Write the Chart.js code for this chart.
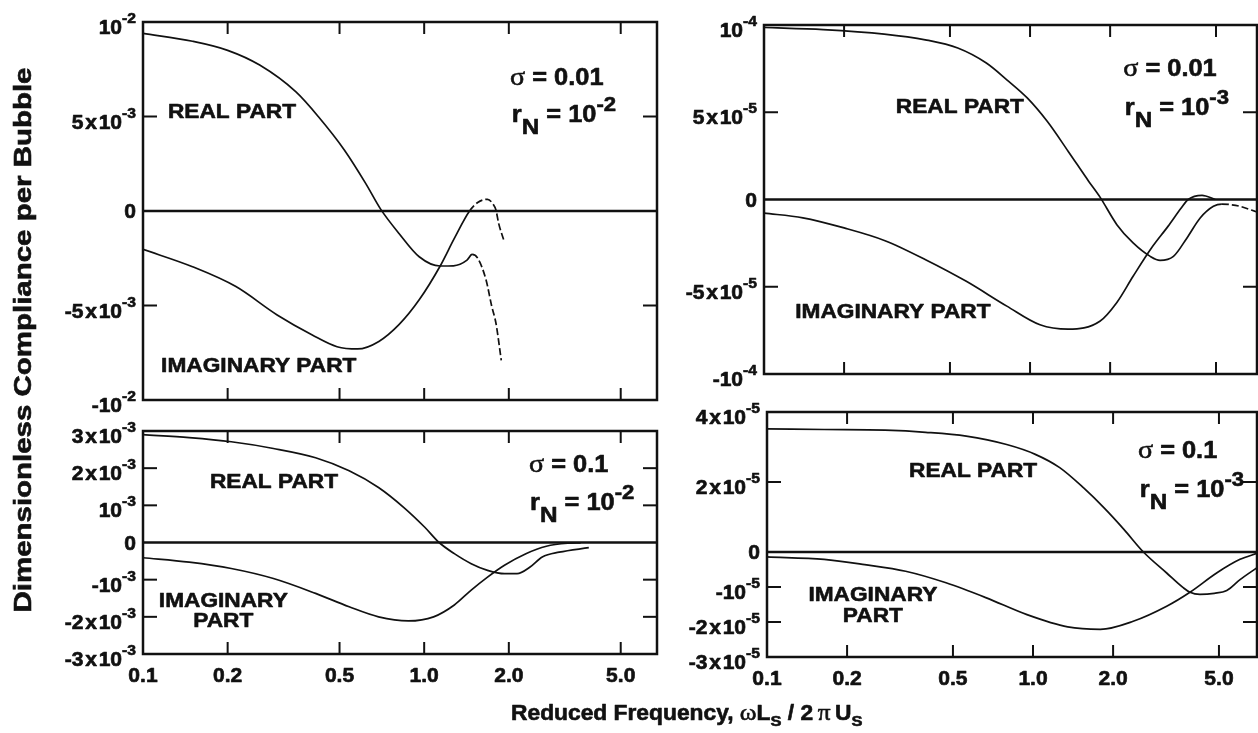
<!DOCTYPE html>
<html>
<head>
<meta charset="utf-8">
<title>Dimensionless compliance per bubble</title>
<script src="https://cdn.jsdelivr.net/npm/chart.js@4.4.1/dist/chart.umd.min.js"></script>
<style>
  html, body { margin: 0; padding: 0; background: #fff; }
  #page { position: relative; width: 1258px; height: 733px; overflow: hidden; background: #fff; }
  #page canvas { position: absolute; left: 0; top: 0; }
</style>
</head>
<body>
<div id="page">
  <canvas id="p1" width="1258" height="733"></canvas>
  <canvas id="p2" width="1258" height="733"></canvas>
  <canvas id="p3" width="1258" height="733"></canvas>
  <canvas id="p4" width="1258" height="733"></canvas>
</div>
<script>
// reduced frequency ticks, same on every panel
const freqTicks  = [0.1, 0.2, 0.5, 1, 2, 5];
const freqLabels = ['0.1', '0.2', '0.5', '1.0', '2.0', '5.0'];

// sigma = 0.01, rN = 1e-2  (values in units of 1e-3)
const freqReal1 = [0.1, 0.15, 0.2, 0.26, 0.35, 0.42, 0.52, 0.62, 0.7, 0.815, 0.96, 1.14, 1.27, 1.42, 1.48, 1.55, 1.66, 1.74, 1.8, 1.88];
const real1     = [9.4, 8.98, 8.5, 7.72, 6.3, 5.0, 3.23, 1.45, 0.1, -1.2, -2.42, -2.91, -2.9, -2.6, -2.3, -2.5, -3.65, -5.06, -5.94, -7.9];
const freqImag1 = [0.1, 0.15, 0.214, 0.3, 0.4, 0.49, 0.58, 0.69, 0.815, 0.96, 1.14, 1.28, 1.45, 1.55, 1.68, 1.76, 1.8, 1.84, 1.92];
const imag1     = [-2.03, -2.95, -4.0, -5.5, -6.56, -7.18, -7.3, -6.9, -6.0, -4.7, -2.91, -1.45, 0, 0.45, 0.62, 0.35, 0.05, -0.65, -1.55];
const yTicks1   = [10, 5, 0, -5, -10];
const yLabels1  = ['10^-2', '5x10^-3', '0', '-5x10^-3', '-10^-2'];

// sigma = 0.01, rN = 1e-3  (units of 1e-5)
const freqReal2 = [0.1, 0.167, 0.283, 0.404, 0.535, 0.685, 0.818, 0.976, 1.16, 1.39, 1.66, 1.83, 2.12, 2.44, 2.83, 3.08, 3.46, 3.89, 4.36, 4.89, 5.26, 5.7, 6.15, 7.13];
const real2     = [9.86, 9.74, 9.48, 9.15, 8.68, 7.82, 6.86, 5.82, 4.48, 2.77, 1.05, 0.15, -1.44, -2.49, -3.26, -3.49, -3.26, -2.2, -1.06, -0.39, -0.26, -0.3, -0.39, -0.72];
const freqImag2 = [0.1, 0.14, 0.2, 0.285, 0.405, 0.576, 0.818, 1.09, 1.39, 1.83, 2.12, 2.44, 2.86, 3.3, 3.7, 3.93, 4.43, 4.97];
const imag2     = [-0.78, -1.05, -1.63, -2.36, -3.45, -4.69, -6.11, -7.18, -7.43, -6.98, -5.9, -4.4, -2.78, -1.54, -0.49, 0, 0.24, 0];
const yTicks2   = [10, 5, 0, -5, -10];
const yLabels2  = ['10^-4', '5x10^-5', '0', '-5x10^-5', '-10^-4'];

// sigma = 0.1, rN = 1e-2  (units of 1e-3)
const freqReal3 = [0.1, 0.146, 0.206, 0.291, 0.411, 0.541, 0.688, 0.847, 1.005, 1.13, 1.28, 1.47, 1.68, 1.93, 2.14, 2.38, 2.63, 3.02, 3.85];
const real3     = [2.9, 2.82, 2.71, 2.53, 2.28, 1.93, 1.48, 0.94, 0.41, 0, -0.3, -0.57, -0.75, -0.84, -0.84, -0.66, -0.39, -0.26, -0.14];
const freqImag3 = [0.1, 0.146, 0.206, 0.291, 0.411, 0.541, 0.688, 0.878, 1.08, 1.28, 1.47, 1.68, 1.93, 2.3, 2.72, 3.24, 3.6];
const imag3     = [-0.41, -0.53, -0.7, -0.97, -1.37, -1.73, -2.0, -2.11, -2.0, -1.68, -1.28, -0.93, -0.61, -0.3, -0.1, -0.02, -0.01];
const yTicks3   = [3, 2, 1, 0, -1, -2, -3];
const yLabels3  = ['3x10^-3', '2x10^-3', '10^-3', '0', '-10^-3', '-2x10^-3', '-3x10^-3'];

// sigma = 0.1, rN = 1e-3  (units of 1e-5)
const freqReal4 = [0.1, 0.164, 0.278, 0.395, 0.561, 0.796, 1.02, 1.26, 1.55, 1.85, 2.2, 2.6, 3.18, 3.67, 3.89, 4.24, 4.8, 5.35, 6.0, 6.95];
const real4     = [3.52, 3.5, 3.48, 3.42, 3.31, 3.07, 2.79, 2.41, 1.83, 1.26, 0.64, 0, -0.6, -1.02, -1.15, -1.21, -1.18, -1.1, -0.79, -0.45];
const freqImag4 = [0.1, 0.164, 0.233, 0.332, 0.471, 0.668, 0.949, 1.35, 1.79, 2.38, 3.18, 3.89, 4.9, 6.0, 6.95];
const imag4     = [-0.14, -0.21, -0.36, -0.55, -0.88, -1.31, -1.79, -2.14, -2.21, -1.98, -1.55, -1.15, -0.6, -0.21, -0.04];
const yTicks4   = [4, 2, 0, -1, -2, -3];
const yLabels4  = ['4x10^-5', '2x10^-5', '0', '-10^-5', '-2x10^-5', '-3x10^-5'];

const W = 1258, H = 733;
const INK = '#111';
const SANS = '"Liberation Sans", Arial, Helvetica, sans-serif';
const GREEK = '"Liberation Serif", "DejaVu Serif", serif';
const STRETCH = 1.08;   // the lettering runs a bit wide
const TICK = 12;

function fontOf(r) {
  return (r.w || 'bold') + ' ' + r.size + 'px ' + (r.fam || SANS);
}

function runsWidth(ctx, runs) {
  let w = 0;
  runs.forEach(r => { ctx.font = fontOf(r); w += ctx.measureText(r.t).width; });
  return w;
}

// draw a line of mixed text (sub/superscripts, greek) starting at x, baseline y
function drawRuns(ctx, runs, x, y, align, stretch) {
  ctx.save();
  ctx.translate(x, y);
  ctx.scale(stretch || STRETCH, 1);
  const w = runsWidth(ctx, runs);
  let cx = align === 'right' ? -w : align === 'center' ? -w / 2 : 0;
  ctx.fillStyle = INK;
  ctx.strokeStyle = INK;
  ctx.lineWidth = 0.6;       // heavier strokes, like the printed lettering
  ctx.lineJoin = 'round';
  ctx.textBaseline = 'alphabetic';
  ctx.textAlign = 'left';
  runs.forEach(r => {
    ctx.font = fontOf(r);
    ctx.fillText(r.t, cx, r.dy || 0);
    ctx.strokeText(r.t, cx, r.dy || 0);
    cx += ctx.measureText(r.t).width;
  });
  ctx.restore();
  return w * (stretch || STRETCH);
}

// "5x10^-3" -> base + raised exponent
function tickRuns(label) {
  const parts = label.split('^');
  const base = parts[0].replace('x', '\u200ax\u200a');
  const runs = [{ t: base, size: 19.5 }];
  if (parts[1]) runs.push({ t: parts[1], size: 14.5, dy: -11 });
  return runs;
}

const word = (t) => [{ t: t, size: 21 }];
const sigmaRuns = (v) => [{ t: '\u03c3', size: 26, w: 'normal', fam: GREEK }, { t: ' = ' + v, size: 23.5 }];
const rnRuns = (e) => [
  { t: 'r', size: 23.5 }, { t: 'N', size: 22.5, dy: 12 },
  { t: ' = 10', size: 23.5 }, { t: e, size: 20.5, dy: -11 }
];

const framePlugin = {
  id: 'frame',
  afterDraw(chart, args, o) {
    const { ctx, chartArea: a } = chart;
    const xs = chart.scales.x, ys = chart.scales.y;
    const seg = (x1, y1, x2, y2) => { ctx.beginPath(); ctx.moveTo(x1, y1); ctx.lineTo(x2, y2); ctx.stroke(); };
    ctx.save();
    ctx.strokeStyle = INK;
    ctx.lineCap = 'butt';

    // frame and zero line
    ctx.lineWidth = 2.5;
    ctx.strokeRect(a.left, a.top, a.right - a.left, a.bottom - a.top);
    const y0 = ys.getPixelForValue(0);
    seg(a.left, y0, a.right, y0);

    // inward ticks
    ctx.lineWidth = 2;
    freqTicks.forEach(v => {
      if (v <= xs.min || v >= xs.max) return;
      const px = xs.getPixelForValue(v);
      seg(px, a.top, px, a.top + TICK);
      seg(px, a.bottom, px, a.bottom - TICK);
    });
    o.yTicks.forEach(v => {
      if (v >= ys.max || v <= ys.min || v === 0) return;
      const py = ys.getPixelForValue(v);
      seg(a.left, py, a.left + TICK + 2, py);
      seg(a.right, py, a.right - TICK - 2, py);
    });

    // value labels
    o.yTicks.forEach((v, i) => {
      const py = ys.getPixelForValue(v);
      const lab = o.yLabels[i];
      drawRuns(ctx, tickRuns(lab), a.left - 7, lab === '0' ? py + 7 : py + 12, 'right');
    });
    if (o.showX) {
      freqTicks.forEach((v, i) => {
        drawRuns(ctx, [{ t: freqLabels[i], size: 19.5 }], xs.getPixelForValue(v), a.bottom + 28, 'center');
      });
    }

    // curve names and parameters
    o.notes.forEach(n => {
      drawRuns(ctx, n.runs, xs.getPixelForValue(n.x), ys.getPixelForValue(n.y), n.align || 'left');
    });
    ctx.restore();
  }
};

// shared axis titles, drawn once on the first canvas
const titlePlugin = {
  id: 'titles',
  afterDraw(chart) {
    const ctx = chart.ctx;
    drawRuns(ctx, [
      { t: 'Reduced Frequency, ', size: 21.5 },
      { t: '\u03c9', size: 24, w: 'normal', fam: GREEK },
      { t: 'L', size: 21.5 }, { t: 'S', size: 15.5, dy: 6 },
      { t: ' / 2\u2009', size: 21.5 },
      { t: '\u03c0', size: 24, w: 'normal', fam: GREEK },
      { t: '\u2009U', size: 21.5 }, { t: 'S', size: 15.5, dy: 6 }
    ], 511, 720, 'left', 1.06);

    const txt = 'Dimensionless Compliance per Bubble';
    ctx.save();
    ctx.font = 'bold 23px ' + SANS;
    const len = ctx.measureText(txt).width;
    ctx.translate(31, 340);
    ctx.rotate(-Math.PI / 2);
    ctx.scale(545 / len, 1);
    ctx.fillStyle = INK;
    ctx.strokeStyle = INK;
    ctx.lineWidth = 0.6;
    ctx.textAlign = 'center';
    ctx.textBaseline = 'alphabetic';
    ctx.fillText(txt, 0, 0);
    ctx.strokeText(txt, 0, 0);
    ctx.restore();
  }
};

function curve(xs, ys, dashFrom) {
  return {
    data: xs.map((x, i) => ({ x: x, y: ys[i] })),
    borderColor: INK,
    borderWidth: 1.7,
    pointRadius: 0,
    fill: false,
    cubicInterpolationMode: 'monotone',
    segment: {
      borderDash: ctx => (dashFrom !== undefined && xs[ctx.p0DataIndex] >= dashFrom) ? [7, 3] : undefined
    }
  };
}

function panel(id, box, xMax, yMin, yMax, datasets, frame, extra) {
  return new Chart(document.getElementById(id), {
    type: 'line',
    data: { datasets: datasets },
    options: {
      responsive: false,
      animation: false,
      events: [],
      layout: { padding: { left: box[0], top: box[1], right: W - box[2], bottom: H - box[3] } },
      scales: {
        x: { type: 'logarithmic', min: 0.1, max: xMax, display: false },
        y: { type: 'linear', min: yMin, max: yMax, display: false }
      },
      plugins: { legend: { display: false }, tooltip: { enabled: false }, frame: frame }
    },
    plugins: [framePlugin].concat(extra || [])
  });
}

panel('p1', [143, 22, 657, 400], 6.73, -10, 10,
  [curve(freqReal1, real1, 1.48), curve(freqImag1, imag1, 1.45)],
  {
    yTicks: yTicks1, yLabels: yLabels1, showX: false,
    notes: [
      { runs: word('REAL PART'), x: 0.1227, y: 4.92 },
      { runs: word('IMAGINARY PART'), x: 0.116, y: -8.52 },
      { runs: sigmaRuns('0.01'), x: 2.02, y: 6.67 },
      { runs: rnRuns('-2'), x: 2.05, y: 4.71 }
    ]
  }, [titlePlugin]);

panel('p2', [764, 25, 1257, 374], 7.13, -10, 10,
  [curve(freqReal2, real2, 5.26), curve(freqImag2, imag2)],
  {
    yTicks: yTicks2, yLabels: yLabels2, showX: false,
    notes: [
      { runs: word('REAL PART'), x: 0.313, y: 4.96 },
      { runs: word('IMAGINARY PART'), x: 0.131, y: -6.79 },
      { runs: sigmaRuns('0.01'), x: 2.24, y: 7.08 },
      { runs: rnRuns('-3'), x: 2.27, y: 4.84 }
    ]
  });

panel('p3', [143, 431, 657, 654], 6.73, -3, 3,
  [curve(freqReal3, real3), curve(freqImag3, imag3)],
  {
    yTicks: yTicks3, yLabels: yLabels3, showX: true,
    notes: [
      { runs: word('REAL PART'), x: 0.173, y: 1.47 },
      { runs: word('IMAGINARY'), x: 0.193, y: -1.73, align: 'center' },
      { runs: word('PART'), x: 0.193, y: -2.27, align: 'center' },
      { runs: sigmaRuns('0.1'), x: 2.36, y: 1.9 },
      { runs: rnRuns('-2'), x: 2.38, y: 0.87 }
    ]
  });

panel('p4', [767, 412, 1257, 657], 6.95, -3, 4,
  [curve(freqReal4, real4), curve(freqImag4, imag4)],
  {
    yTicks: yTicks4, yLabels: yLabels4, showX: true,
    notes: [
      { runs: word('REAL PART'), x: 0.342, y: 2.13 },
      { runs: word('IMAGINARY'), x: 0.25, y: -1.41, align: 'center' },
      { runs: word('PART'), x: 0.25, y: -1.99, align: 'center' },
      { runs: sigmaRuns('0.1'), x: 2.48, y: 2.7 },
      { runs: rnRuns('-3'), x: 2.52, y: 1.56 }
    ]
  });
</script>
</body>
</html>
